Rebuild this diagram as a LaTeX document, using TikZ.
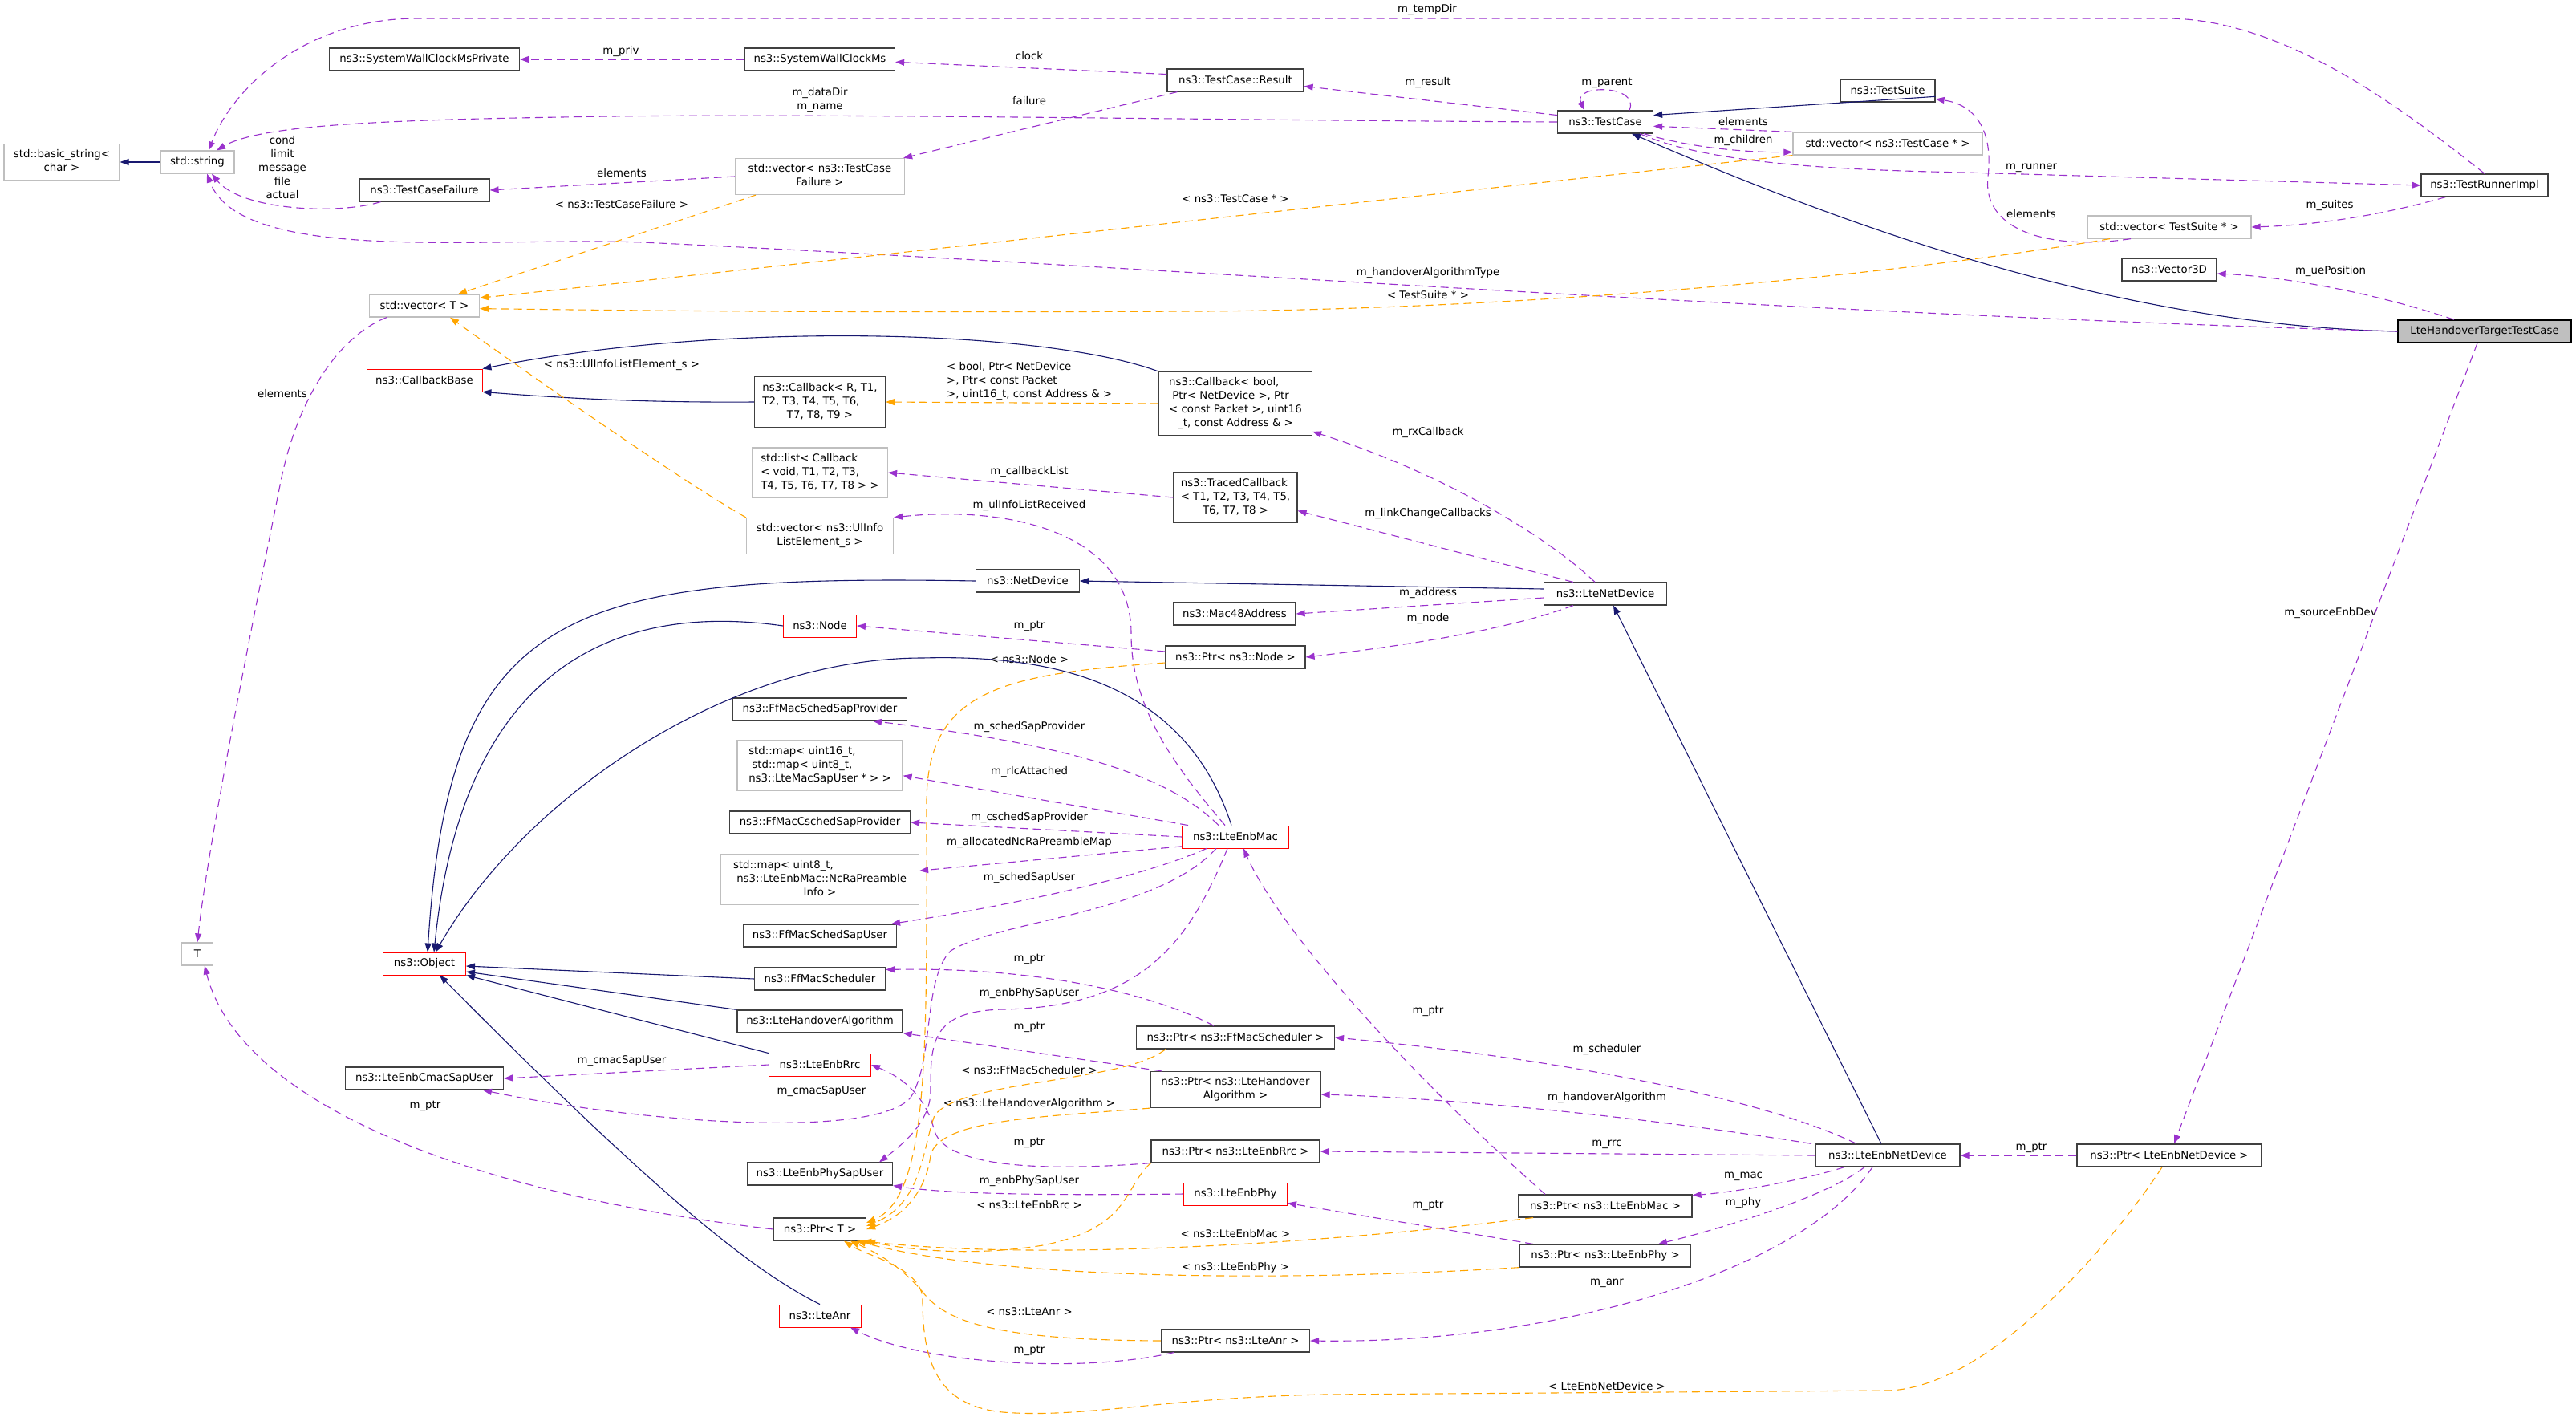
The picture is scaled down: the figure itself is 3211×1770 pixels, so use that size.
\documentclass[tikz,border=0pt]{standalone}
\usepackage{fontspec}
\setmainfont{DejaVu Sans}
\usetikzlibrary{arrows.meta}
\definecolor{inhblue}{HTML}{191970}
\definecolor{usepurple}{HTML}{9A32CD}
\definecolor{tmplorange}{HTML}{FFA500}
\definecolor{boxgray}{HTML}{404040}
\definecolor{extgray}{HTML}{BFBFBF}
\newcommand{\dxfont}{\fontsize{13.3}{17}\selectfont}
% wrapped class name: lines left-justified, last line centred (as dot does)
\newcommand{\wrapname}[2]{\begin{tabular}{@{}l@{}}#1\\\multicolumn{1}{@{}c@{}}{#2}\end{tabular}}
\tikzset{
  cls/.style={draw=boxgray, line width=1.2pt, fill=white, font=\dxfont, inner xsep=6pt, inner ysep=0pt, minimum height=28pt},
  ext/.style={cls, draw=extgray},
  redcls/.style={cls, draw=red, line width=0.9pt},
  focus/.style={cls, draw=black, fill=extgray},
  lbl/.style={font=\dxfont, inner sep=0pt, align=center},
  inh/.style={->, color=inhblue, line width=1.1pt},
  use/.style={->, color=usepurple, line width=1.1pt, dash pattern=on 10pt off 6pt},
  tmpl/.style={->, color=tmplorange, line width=1.1pt, dash pattern=on 10pt off 6pt}
}
\begin{document}
\begin{tikzpicture}[x=1pt,y=-1pt,>={Triangle[length=11pt,width=8pt]}]
\useasboundingbox (0,0) rectangle (3211,1770);
\fill[white] (0,0) rectangle (3211,1770);
% strings and test framework
\node[ext, minimum width=144pt, minimum height=45pt] (basicstr) at (77,202) {\wrapname{std::basic\_string<}{char >}};
\node[ext, minimum width=92pt] (str) at (246,202) {std::string};
\node[ext, minimum width=39pt] (T) at (246,1189) {T};
\node[cls, minimum width=237pt] (swcmp) at (529,74) {ns3::SystemWallClockMsPrivate};
\node[cls, minimum width=162pt] (tcfail) at (529,237) {ns3::TestCaseFailure};
\node[ext, minimum width=137pt] (vecT) at (529,381) {std::vector< T >};
\node[redcls, minimum width=144pt] (cbbase) at (529,474) {ns3::CallbackBase};
\node[redcls, minimum width=103pt] (object) at (529,1201) {ns3::Object};
\node[cls, minimum width=197pt] (cmacuser) at (529,1344) {ns3::LteEnbCmacSapUser};
\node[cls, minimum width=187pt] (swcm) at (1022,74) {ns3::SystemWallClockMs};
\node[ext, minimum width=211pt, minimum height=45pt] (vecfail) at (1022,220) {\wrapname{std::vector< ns3::TestCase}{Failure >}};
\node[cls, minimum width=170pt] (result) at (1540,100) {ns3::TestCase::Result};
\node[cls, minimum width=119pt] (testcase) at (2001,152) {ns3::TestCase};
\node[cls, minimum width=118pt] (testsuite) at (2353,113) {ns3::TestSuite};
\node[ext, minimum width=236pt] (vectc) at (2353,179) {std::vector< ns3::TestCase * >};
\node[ext, minimum width=204pt] (vecsuite) at (2704,283) {std::vector< TestSuite * >};
\node[cls, minimum width=118pt] (vec3d) at (2704,336) {ns3::Vector3D};
\node[cls, minimum width=158pt] (runner) at (3097,231) {ns3::TestRunnerImpl};
\node[focus, minimum width=216pt] (target) at (3097,413) {LteHandoverTargetTestCase};
% callbacks and devices
\node[cls, minimum width=163pt, minimum height=63pt] (cbR) at (1022,501) {\wrapname{ns3::Callback< R, T1,\\T2, T3, T4, T5, T6,}{T7, T8, T9 >}};
\node[ext, minimum width=169pt, minimum height=62pt] (listcb) at (1022,589) {\wrapname{std::list< Callback\\< void, T1, T2, T3,}{T4, T5, T6, T7, T8 > >}};
\node[ext, minimum width=183pt, minimum height=45pt] (vecul) at (1022,668) {\wrapname{std::vector< ns3::UlInfo}{ListElement\_s >}};
\node[cls, minimum width=129pt] (netdev) at (1281,724) {ns3::NetDevice};
\node[redcls, minimum width=91pt] (node) at (1022,780) {ns3::Node};
\node[cls, minimum width=191pt, minimum height=79pt] (cbbool) at (1540,503) {\wrapname{ns3::Callback< bool,\\\ Ptr< NetDevice >, Ptr\\< const Packet >, uint16}{\_t, const Address \& >}};
\node[cls, minimum width=154pt, minimum height=63pt] (traced) at (1540,620) {\wrapname{ns3::TracedCallback\\< T1, T2, T3, T4, T5,}{T6, T7, T8 >}};
\node[cls, minimum width=152pt] (mac48) at (1539,765) {ns3::Mac48Address};
\node[cls, minimum width=174pt] (ptrnode) at (1540,819) {ns3::Ptr< ns3::Node >};
\node[cls, minimum width=153pt] (ltenetdev) at (2001,740) {ns3::LteNetDevice};
% mac, scheduler, rrc
\node[cls, minimum width=217pt] (schedprov) at (1022,884) {ns3::FfMacSchedSapProvider};
\node[ext, minimum width=206pt, minimum height=63pt] (maprlc) at (1022,954) {\wrapname{std::map< uint16\_t,\\\ std::map< uint8\_t,}{ns3::LteMacSapUser * > >}};
\node[cls, minimum width=225pt] (cschedprov) at (1022,1025) {ns3::FfMacCschedSapProvider};
\node[ext, minimum width=247pt, minimum height=63pt] (mapncra) at (1022,1096) {\wrapname{std::map< uint8\_t,\\\ ns3::LteEnbMac::NcRaPreamble}{Info >}};
\node[cls, minimum width=191pt] (scheduser) at (1022,1166) {ns3::FfMacSchedSapUser};
\node[cls, minimum width=163pt] (ffsched) at (1022,1220) {ns3::FfMacScheduler};
\node[cls, minimum width=206pt] (hoalg) at (1022,1273) {ns3::LteHandoverAlgorithm};
\node[redcls, minimum width=127pt] (rrc) at (1022,1327) {ns3::LteEnbRrc};
\node[cls, minimum width=181pt] (physapuser) at (1022,1463) {ns3::LteEnbPhySapUser};
\node[cls, minimum width=115pt] (ptrT) at (1022,1532) {ns3::Ptr< T >};
\node[redcls, minimum width=102pt] (anr) at (1022,1640) {ns3::LteAnr};
\node[redcls, minimum width=133pt] (enbmac) at (1540,1043) {ns3::LteEnbMac};
\node[cls, minimum width=247pt] (ptrsched) at (1540,1293) {ns3::Ptr< ns3::FfMacScheduler >};
\node[cls, minimum width=212pt, minimum height=45pt] (ptrho) at (1540,1358) {\wrapname{ns3::Ptr< ns3::LteHandover}{Algorithm >}};
\node[cls, minimum width=210pt] (ptrrrc) at (1540,1435) {ns3::Ptr< ns3::LteEnbRrc >};
\node[redcls, minimum width=129pt] (enbphy) at (1540,1488) {ns3::LteEnbPhy};
\node[cls, minimum width=185pt] (ptranr) at (1540,1671) {ns3::Ptr< ns3::LteAnr >};
\node[cls, minimum width=216pt] (ptrmac) at (2001,1503) {ns3::Ptr< ns3::LteEnbMac >};
\node[cls, minimum width=213pt] (ptrphy) at (2001,1565) {ns3::Ptr< ns3::LteEnbPhy >};
\node[cls, minimum width=180pt] (enbnetdev) at (2353,1440) {ns3::LteEnbNetDevice};
\node[cls, minimum width=230pt] (ptrenbdev) at (2704,1440) {ns3::Ptr< LteEnbNetDevice >};
% edge labels
\node[lbl] (lTempDir) at (1779,12) {m\_tempDir};
\node[lbl] (lPriv) at (774,64) {m\_priv};
\node[lbl] (lClock) at (1283,70) {clock};
\node[lbl] (lResult) at (1780,103) {m\_result};
\node[lbl] (lParent) at (2003,103) {m\_parent};
\node[lbl] (lDataDir) at (1022,125) {m\_dataDir\\m\_name};
\node[lbl] (lFailure) at (1283,126) {failure};
\node[lbl] (lElemTC) at (2173,152) {elements};
\node[lbl] (lChildren) at (2173,175) {m\_children};
\node[lbl] (lCond) at (352,209) {cond\\limit\\message\\file\\actual};
\node[lbl] (lElemFail) at (775,216) {elements};
\node[lbl] (lRunner) at (2532,209) {m\_runner};
\node[lbl] (lTCPtr) at (1540,248) {< ns3::TestCase * >};
\node[lbl] (lTCFail) at (775,255) {< ns3::TestCaseFailure >};
\node[lbl] (lSuites) at (2904,256) {m\_suites};
\node[lbl] (lElemSuite) at (2532,267) {elements};
\node[lbl] (lHOType) at (1780,340) {m\_handoverAlgorithmType};
\node[lbl] (lUePos) at (2905,338) {m\_uePosition};
\node[lbl] (lSuitePtr) at (1780,368) {< TestSuite * >};
\node[lbl] (lUlInfo) at (775,455) {< ns3::UlInfoListElement\_s >};
\node[lbl, anchor=west, align=left] (lCbArgs) at (1180,475) {< bool, Ptr< NetDevice\\>, Ptr< const Packet\\>, uint16\_t, const Address \& >};
\node[lbl] (lElemT) at (352,491) {elements};
\node[lbl] (lRxCb) at (1780,539) {m\_rxCallback};
\node[lbl] (lCbList) at (1283,588) {m\_callbackList};
\node[lbl] (lUlRecv) at (1283,630) {m\_ulInfoListReceived};
\node[lbl] (lLinkCb) at (1780,640) {m\_linkChangeCallbacks};
\node[lbl] (lAddr) at (1780,739) {m\_address};
\node[lbl] (lNode) at (1780,771) {m\_node};
\node[lbl] (lSrcEnb) at (2905,764) {m\_sourceEnbDev};
\node[lbl] (lNodePtr) at (1283,780) {m\_ptr};
\node[lbl] (lNodeTmpl) at (1283,822) {< ns3::Node >};
\node[lbl] (lSchedProv) at (1283,906) {m\_schedSapProvider};
\node[lbl] (lRlc) at (1283,962) {m\_rlcAttached};
\node[lbl] (lCsched) at (1283,1019) {m\_cschedSapProvider};
\node[lbl] (lNcRa) at (1283,1050) {m\_allocatedNcRaPreambleMap};
\node[lbl] (lSchedUser) at (1283,1094) {m\_schedSapUser};
\node[lbl] (lSchedPtr) at (1283,1195) {m\_ptr};
\node[lbl] (lPhySapUp) at (1283,1238) {m\_enbPhySapUser};
\node[lbl] (lMacPtr) at (1780,1260) {m\_ptr};
\node[lbl] (lHoPtr) at (1283,1280) {m\_ptr};
\node[lbl] (lScheduler) at (2003,1308) {m\_scheduler};
\node[lbl] (lCmacUp) at (775,1322) {m\_cmacSapUser};
\node[lbl] (lSchedTmpl) at (1283,1334) {< ns3::FfMacScheduler >};
\node[lbl] (lCmacLow) at (1024,1360) {m\_cmacSapUser};
\node[lbl] (lHoAlg) at (2003,1368) {m\_handoverAlgorithm};
\node[lbl] (lHoTmpl) at (1283,1376) {< ns3::LteHandoverAlgorithm >};
\node[lbl] (lTPtr) at (530,1378) {m\_ptr};
\node[lbl] (lRrcPtr) at (1283,1424) {m\_ptr};
\node[lbl] (lRrc) at (2003,1426) {m\_rrc};
\node[lbl] (lEnbDevPtr) at (2532,1430) {m\_ptr};
\node[lbl] (lMac) at (2173,1466) {m\_mac};
\node[lbl] (lPhySapLow) at (1283,1472) {m\_enbPhySapUser};
\node[lbl] (lPhy) at (2173,1499) {m\_phy};
\node[lbl] (lRrcTmpl) at (1283,1502) {< ns3::LteEnbRrc >};
\node[lbl] (lPhyPtr) at (1780,1502) {m\_ptr};
\node[lbl] (lMacTmpl) at (1540,1538) {< ns3::LteEnbMac >};
\node[lbl] (lPhyTmpl) at (1540,1580) {< ns3::LteEnbPhy >};
\node[lbl] (lAnr) at (2003,1599) {m\_anr};
\node[lbl] (lAnrTmpl) at (1283,1635) {< ns3::LteAnr >};
\node[lbl] (lAnrPtr) at (1283,1683) {m\_ptr};
\node[lbl] (lEnbDevTmpl) at (2003,1728) {< LteEnbNetDevice >};
% inheritance
\draw[inh] (str) -- (basicstr);
\draw[inh] (testsuite.-7) -- (testcase.8);
\draw[inh] (target.west) .. controls (2600,405) and (2230,250) .. ([xshift=33]testcase.south);
\draw[inh] (cbbool.north west) .. controls (1300,410) and (900,400) .. (cbbase.north east);
\draw[inh] (cbR.west) .. controls (800,502) and (700,496) .. (cbbase.south east);
\draw[inh] (netdev.west) .. controls (700,715) and (560,760) .. ([xshift=4]object.north);
\draw[inh] (node.west) .. controls (800,755) and (580,800) .. ([xshift=12]object.north);
\draw[inh] ([xshift=-5]enbmac.north) .. controls (1480,860) and (1330,815) .. (1150,820) .. controls (900,820) and (650,1000) .. ([xshift=14]object.north);
\draw[inh] (ffsched.west) -- ([yshift=-3]object.east);
\draw[inh] (hoalg.north west) -- ([yshift=-10]object.east);
\draw[inh] (rrc.north west) -- (object.south east);
\draw[inh] (anr.north) .. controls (930,1580) and (800,1470) .. ([xshift=19]object.south);
\draw[inh] ([yshift=6]ltenetdev.west) -- (netdev.east);
\draw[inh] ([xshift=-8]enbnetdev.north) -- ([xshift=10]ltenetdev.south);
% members (usage)
\draw[use] (swcm) -- (swcmp);
\draw[use] (result.175) -- (swcm.-2);
\draw[use] ([xshift=13]result.south west) -- ([xshift=-2]vecfail.north east);
\draw[use] (vecfail.west) -- (tcfail.east);
\draw[use] (tcfail.-165) .. controls (420,268) and (300,262) .. ([xshift=18]str.south);
\draw[use] (target.west) .. controls (2200,390) and (1400,330) .. (800,302) .. controls (600,295) and (300,330) .. ([xshift=12]str.south);
\draw[use] (testcase.west) .. controls (1500,150) and (1000,140) .. (700,146) .. controls (450,150) and (320,158) .. ([xshift=24]str.north);
\draw[use] (runner.north) .. controls (3000,140) and (2850,23) .. (2700,23) -- (520,23) .. controls (380,23) and (290,110) .. ([xshift=14]str.north);
\draw[use] (testcase.172) -- (result.-5);
\draw[use] ([xshift=30]testcase.north) .. controls (2045,105) and (1960,105) .. ([xshift=-26]testcase.north);
\draw[use] (vectc.north west) -- (testcase.-5);
\draw[use] ([xshift=-12]testcase.south east) .. controls (2110,185) and (2180,190) .. ([yshift=4]vectc.south west);
\draw[use] ([xshift=-17]testcase.south east) .. controls (2130,205) and (2300,212) .. (2450,215) -- (runner.west);
\draw[use] ([xshift=31]runner.south west) .. controls (2980,265) and (2900,280) .. (vecsuite.east);
\draw[use] ([xshift=-48]vecsuite.south) .. controls (2560,312) and (2470,290) .. (2478,220) .. controls (2485,160) and (2460,130) .. (testsuite.-10);
\draw[use] ([xshift=-38]target.north) .. controls (2960,365) and (2850,345) .. ([yshift=-5]vec3d.east);
\draw[use] ([xshift=-9]target.south) -- ([xshift=6]ptrenbdev.north);
\draw[use] (ptrenbdev) -- (enbnetdev);
\draw[use] ([xshift=-13]ltenetdev.north) .. controls (1930,670) and (1800,590) .. (cbbool.-20);
\draw[use] ([xshift=37]ltenetdev.north west) -- (traced.-12);
\draw[use] ([yshift=-5]ltenetdev.west) -- (mac48.east);
\draw[use] ([xshift=37]ltenetdev.south west) .. controls (1880,785) and (1750,805) .. (ptrnode.east);
\draw[use] ([yshift=7]ptrnode.west) -- (node.east);
\draw[use] (traced.west) -- (listcb.east);
\draw[use] ([xshift=-13]enbmac.north) .. controls (1460,950) and (1410,880) .. (1410,790) .. controls (1410,660) and (1250,630) .. (vecul.north east);
\draw[use] ([xshift=-21]enbmac.north) .. controls (1460,970) and (1350,930) .. ([xshift=66]schedprov.south);
\draw[use] ([xshift=-59]enbmac.north) -- (maprlc.-7);
\draw[use] (enbmac.west) -- (cschedprov.east);
\draw[use] (enbmac.-170) -- (mapncra.5);
\draw[use] ([xshift=-36]enbmac.south) .. controls (1420,1095) and (1250,1130) .. ([xshift=89]scheduser.north);
\draw[use] ([xshift=-24]enbmac.south) .. controls (1440,1140) and (1250,1145) .. (1185,1185) .. controls (1150,1220) and (1165,1320) .. (1135,1368) .. controls (1090,1420) and (800,1400) .. ([xshift=73]cmacuser.south);
\draw[use] (rrc.west) -- (cmacuser.east);
\draw[use] ([xshift=-10]enbmac.south) .. controls (1480,1180) and (1420,1255) .. (1250,1258) .. controls (1160,1260) and (1160,1300) .. (1160,1360) .. controls (1160,1400) and (1120,1430) .. ([xshift=74]physapuser.north);
\draw[use] ([xshift=-27]ptrsched.north) .. controls (1440,1240) and (1300,1205) .. (ffsched.8);
\draw[use] ([xshift=-92]ptrho.north) -- (hoalg.south east);
\draw[use] (ptrrrc.south west) .. controls (1300,1460) and (1180,1455) .. (1165,1410) .. controls (1155,1370) and (1130,1345) .. (rrc.east);
\draw[use] (enbphy.west) .. controls (1300,1490) and (1180,1488) .. (physapuser.south east);
\draw[use] (ptrT.west) .. controls (600,1490) and (300,1380) .. ([xshift=9]T.south);
\draw[use] ([xshift=-47]vecT.south) .. controls (420,420) and (370,500) .. (350,600) .. controls (310,800) and (260,1050) .. (T.north);
\draw[use] ([xshift=-39]enbnetdev.north) .. controls (2200,1370) and (1950,1320) .. (ptrsched.east);
\draw[use] ([xshift=-95]enbnetdev.north) .. controls (2100,1400) and (1850,1370) .. ([yshift=-6]ptrho.east);
\draw[use] (enbnetdev.west) -- (ptrrrc.east);
\draw[use] ([xshift=-54]enbnetdev.south) .. controls (2250,1470) and (2170,1485) .. (ptrmac.7);
\draw[use] ([xshift=-29]enbnetdev.south) .. controls (2280,1490) and (2150,1530) .. ([xshift=66]ptrphy.north);
\draw[use] ([xshift=-19]enbnetdev.south) .. controls (2250,1580) and (1950,1675) .. (ptranr.east);
\draw[use] ([xshift=-75]ptrmac.north) .. controls (1780,1360) and (1600,1170) .. ([xshift=10]enbmac.south);
\draw[use] ([xshift=-90]ptrphy.north) -- (enbphy.-10);
\draw[use] ([xshift=-77]ptranr.south) .. controls (1350,1712) and (1150,1700) .. ([xshift=38]anr.south);
% template instances
\draw[tmpl] ([xshift=-80]vecfail.south) -- ([xshift=42]vecT.north);
\draw[tmpl] (vectc.south west) .. controls (1600,262) and (900,340) .. (vecT.8);
\draw[tmpl] ([xshift=-74]vecsuite.south) .. controls (2350,345) and (1900,385) .. (1500,388) .. controls (1000,390) and (800,387) .. (vecT.-3);
\draw[tmpl] (vecul.north west) .. controls (850,600) and (650,460) .. ([xshift=32]vecT.south);
\draw[tmpl] (cbbool.west) -- (cbR.east);
\draw[tmpl] ([yshift=-7]ptrnode.west) .. controls (1250,840) and (1155,860) .. (1155,1000) .. controls (1155,1300) and (1160,1490) .. ([yshift=8]ptrT.east);
\draw[tmpl] ([xshift=37]ptrsched.south west) .. controls (1400,1350) and (1200,1345) .. (1165,1390) .. controls (1150,1430) and (1150,1500) .. ([yshift=4]ptrT.east);
\draw[tmpl] (ptrho.south west) .. controls (1300,1392) and (1170,1395) .. (1160,1440) .. controls (1155,1480) and (1130,1515) .. (ptrT.east);
\draw[tmpl] (ptrrrc.south west) .. controls (1400,1480) and (1410,1530) .. (1300,1552) .. controls (1200,1568) and (1120,1555) .. (ptrT.south east);
\draw[tmpl] ([xshift=-90]ptrmac.south) .. controls (1650,1550) and (1300,1572) .. ([xshift=-5]ptrT.south east);
\draw[tmpl] (ptrphy.south west) .. controls (1600,1598) and (1250,1595) .. ([xshift=-12]ptrT.south east);
\draw[tmpl] (ptranr.west) .. controls (1250,1670) and (1180,1650) .. (1150,1610) .. controls (1120,1575) and (1090,1560) .. ([xshift=38]ptrT.south);
\draw[tmpl] ([xshift=-9]ptrenbdev.south) .. controls (2640,1540) and (2480,1733) .. (2350,1733) -- (1650,1738) .. controls (1450,1742) and (1350,1768) .. (1250,1760) .. controls (1170,1752) and (1150,1700) .. (1150,1620) .. controls (1150,1580) and (1080,1565) .. ([xshift=30]ptrT.south);
\end{tikzpicture}
\end{document}
